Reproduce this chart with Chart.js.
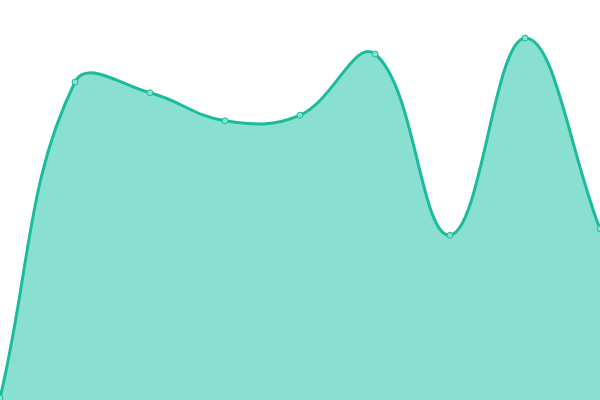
<!DOCTYPE html>
<html lang="en">
<head>
    <meta charset="UTF-8">
    <title>Area</title>
    <script src="https://cdn.jsdelivr.net/npm/chart.js"></script>
    <style>
        html, body { margin: 0; padding: 0; background: #fff; }
        .wrap { width: 600px; height: 400px; }
    </style>
</head>
<body>
    <div class="wrap"><canvas id="areaChart"></canvas></div>

    <script>
        // data (scale 0..100)
        const labels = ['1', '2', '3', '4', '5', '6', '7', '8', '9'];
        const values = [0.5, 79.5, 76.8, 69.8, 71.2, 86.5, 41.2, 90.5, 42.8];

        const ctx = document.getElementById('areaChart').getContext('2d');
        new Chart(ctx, {
            type: 'line',
            data: {
                labels: labels,
                datasets: [{
                    data: values,
                    fill: 'start',
                    backgroundColor: '#8ae0d0',
                    borderColor: '#1abc9c',
                    borderWidth: 3,
                    tension: 0.4,
                    pointRadius: 3,
                    pointBorderWidth: 1,
                    pointBackgroundColor: '#8ae0d0',
                    pointBorderColor: '#1abc9c'
                }]
            },
            options: {
                responsive: true,
                maintainAspectRatio: false,
                animation: false,
                layout: { padding: 0, autoPadding: false },
                plugins: {
                    legend: { display: false },
                    tooltip: { enabled: false }
                },
                scales: {
                    x: { display: false },
                    y: { display: false, min: 0, max: 100 }
                }
            }
        });
    </script>
</body>
</html>
